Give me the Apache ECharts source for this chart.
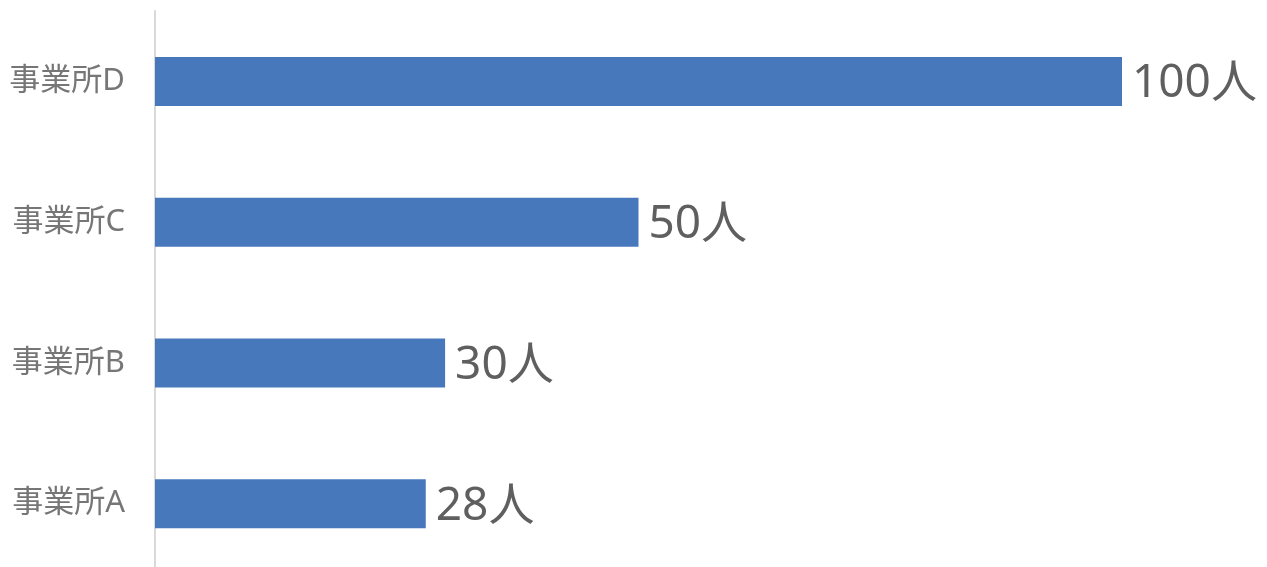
<!DOCTYPE html>
<html>
<head>
<meta charset="utf-8">
<script src="https://cdn.jsdelivr.net/npm/echarts@6/dist/echarts.min.js"></script>
<style>html,body{margin:0;padding:0;background:#fff;}#c{width:1267px;height:567px;}</style>
</head>
<body>
<div id="c"></div>
<script>
const categories = ['事業所A', '事業所B', '事業所C', '事業所D'];
const values = [28, 30, 50, 100];
const unit = '人';

const chart = echarts.init(document.getElementById('c'));
chart.setOption({
  animation: false,
  grid: { left: 155, right: 145, top: 11, bottom: -7, containLabel: false, outerBoundsMode: 'none' },
  xAxis: {
    type: 'value', min: 0, max: 100,
    show: false, splitLine: { show: false }
  },
  yAxis: {
    type: 'category', data: categories,
    axisLine: { show: true, lineStyle: { color: '#d9d9d9', width: 2 } },
    axisTick: { show: false },
    axisLabel: { color: '#767676', fontSize: 31, fontFamily: "'Noto Sans', 'Noto Sans CJK JP'", margin: 30 }
  },
  series: [{
    type: 'bar', data: values, barWidth: 49,
    itemStyle: { color: '#4878bc' },
    label: {
      show: true, position: 'right', distance: 10, offset: [0, 3],
      formatter: p => p.value + unit,
      color: '#5f5f5f', fontSize: 46, fontFamily: "'Noto Sans', 'Noto Sans CJK JP'"
    }
  }]
});
</script>
</body>
</html>
